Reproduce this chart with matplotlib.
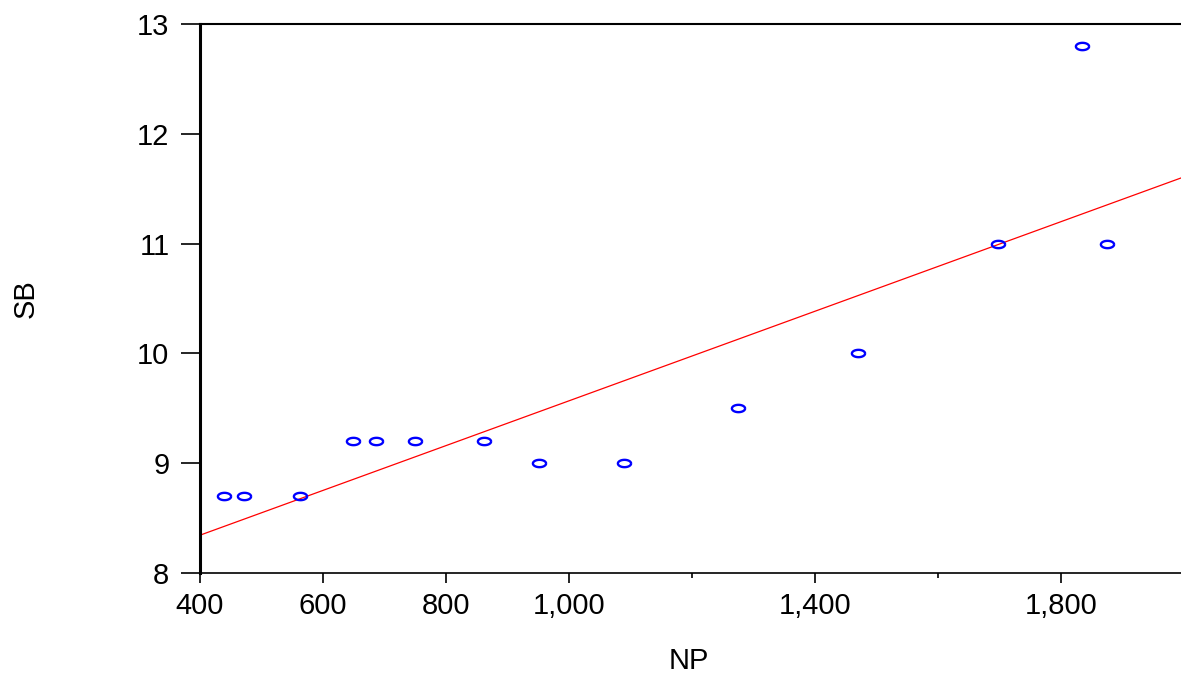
import matplotlib.pyplot as plt
import numpy as np
from matplotlib.path import Path
from matplotlib.ticker import FuncFormatter, MultipleLocator

# NP vs SB scatter with OLS fit line
np_vals = [439, 471, 562, 649, 686, 750, 861, 951, 1090, 1275, 1470, 1698, 1834, 1875]
sb_vals = [8.7, 8.7, 8.7, 9.2, 9.2, 9.2, 9.2, 9.0, 9.0, 9.5, 10.0, 11.0, 12.8, 11.0]
xticks_major = [400, 600, 800, 1000, 1400, 1800]
yticks = [8, 9, 10, 11, 12, 13]

plt.rcParams['font.family'] = ['Liberation Sans', 'DejaVu Sans']

x = np.array(np_vals, dtype=float)
y = np.array(sb_vals)
slope, icpt = np.polyfit(x, y, 1)

# stretched circle like the original
t = np.linspace(0, 2 * np.pi, 60)
ellipse = Path(np.column_stack([1.8 * np.cos(t), np.sin(t)]))

fig = plt.figure(figsize=(11.81, 6.78), dpi=100)
ax = fig.add_axes([200 / 1181, 105 / 678, 984 / 1181, 549 / 678])

xs = np.array([400, 2000])
ax.plot(xs, icpt + slope * xs, color='red', lw=0.9)
ax.plot(x, y, ls='none', marker=ellipse, ms=9.5, mfc='none', mec='blue', mew=1.7)

ax.set_xlim(400, 2000)
ax.set_ylim(8, 13)
ax.set_xticks(xticks_major)
ax.xaxis.set_minor_locator(MultipleLocator(200))
ax.set_yticks(yticks)
ax.xaxis.set_major_formatter(FuncFormatter(lambda v, p: f"{int(v):,}"))

ax.spines['right'].set_visible(False)
ax.spines['left'].set_linewidth(2.2)
ax.spines['top'].set_linewidth(1.5)
ax.spines['bottom'].set_linewidth(1.2)

ax.tick_params(axis='y', direction='out', length=14, width=1.2, pad=8, labelsize=21)
ax.tick_params(axis='x', which='major', direction='out', length=7, width=1.2, pad=7, labelsize=21)
ax.tick_params(axis='x', which='minor', direction='out', length=3.5, width=1.2)

ax.set_xlabel("NP", fontsize=21)
ax.set_ylabel("SB", fontsize=21)
ax.xaxis.set_label_coords(0.497, -0.135)
ax.yaxis.set_label_coords(-0.163, 0.5)

plt.savefig("out.png", dpi=100)
